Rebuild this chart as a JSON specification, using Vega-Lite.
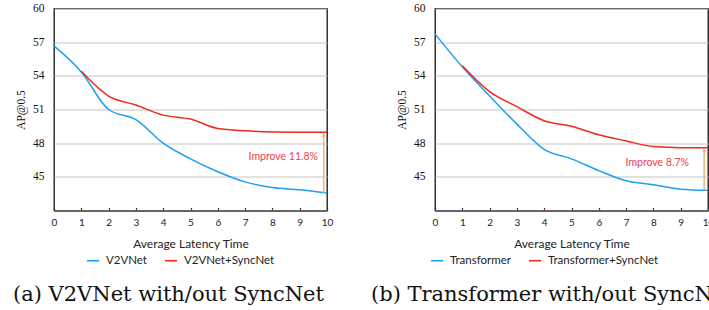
{
  "$schema": "https://vega.github.io/schema/vega-lite/v6.json",
  "padding": {"left": 12, "top": 1.5, "right": 0, "bottom": 0},
  "background": "white",
  "bounds": "flush",
  "spacing": 108,
  "datasets": {
    "a": [
      {"t": 0, "ap": 56.67, "model": "V2VNet"},
      {"t": 1, "ap": 54.35, "model": "V2VNet"},
      {"t": 2, "ap": 51.0, "model": "V2VNet"},
      {"t": 3, "ap": 50.1, "model": "V2VNet"},
      {"t": 4, "ap": 48.0, "model": "V2VNet"},
      {"t": 5, "ap": 46.6, "model": "V2VNet"},
      {"t": 6, "ap": 45.45, "model": "V2VNet"},
      {"t": 7, "ap": 44.55, "model": "V2VNet"},
      {"t": 8, "ap": 44.05, "model": "V2VNet"},
      {"t": 9, "ap": 43.85, "model": "V2VNet"},
      {"t": 10, "ap": 43.55, "model": "V2VNet"},
      {"t": 1, "ap": 54.4, "model": "V2VNet+SyncNet"},
      {"t": 2, "ap": 52.2, "model": "V2VNet+SyncNet"},
      {"t": 3, "ap": 51.4, "model": "V2VNet+SyncNet"},
      {"t": 4, "ap": 50.5, "model": "V2VNet+SyncNet"},
      {"t": 5, "ap": 50.15, "model": "V2VNet+SyncNet"},
      {"t": 6, "ap": 49.3, "model": "V2VNet+SyncNet"},
      {"t": 7, "ap": 49.1, "model": "V2VNet+SyncNet"},
      {"t": 8, "ap": 49.0, "model": "V2VNet+SyncNet"},
      {"t": 9, "ap": 48.98, "model": "V2VNet+SyncNet"},
      {"t": 10, "ap": 48.98, "model": "V2VNet+SyncNet"}
    ],
    "b": [
      {"t": 0, "ap": 57.74, "model": "Transformer"},
      {"t": 1, "ap": 54.8, "model": "Transformer"},
      {"t": 2, "ap": 52.2, "model": "Transformer"},
      {"t": 3, "ap": 49.7, "model": "Transformer"},
      {"t": 4, "ap": 47.45, "model": "Transformer"},
      {"t": 5, "ap": 46.6, "model": "Transformer"},
      {"t": 6, "ap": 45.55, "model": "Transformer"},
      {"t": 7, "ap": 44.65, "model": "Transformer"},
      {"t": 8, "ap": 44.3, "model": "Transformer"},
      {"t": 9, "ap": 43.9, "model": "Transformer"},
      {"t": 10, "ap": 43.8, "model": "Transformer"},
      {"t": 1, "ap": 54.9, "model": "Transformer+SyncNet"},
      {"t": 2, "ap": 52.6, "model": "Transformer+SyncNet"},
      {"t": 3, "ap": 51.25, "model": "Transformer+SyncNet"},
      {"t": 4, "ap": 50.0, "model": "Transformer+SyncNet"},
      {"t": 5, "ap": 49.5, "model": "Transformer+SyncNet"},
      {"t": 6, "ap": 48.75, "model": "Transformer+SyncNet"},
      {"t": 7, "ap": 48.2, "model": "Transformer+SyncNet"},
      {"t": 8, "ap": 47.7, "model": "Transformer+SyncNet"},
      {"t": 9, "ap": 47.6, "model": "Transformer+SyncNet"},
      {"t": 10, "ap": 47.6, "model": "Transformer+SyncNet"}
    ],
    "annA": [{"t": 9.88, "low": 43.55, "high": 48.75, "tx": 9.67, "ty": 46.8, "label": "Improve 11.8%"}],
    "annB": [{"t": 9.86, "low": 43.8, "high": 47.4, "tx": 9.3, "ty": 46.25, "label": "Improve 8.7%"}]
  },
  "resolve": {"scale": {"color": "independent"}, "legend": {"color": "independent"}},
  "config": {
    "view": {"stroke": "#111", "strokeWidth": 1.3},
    "axis": {"grid": false},
    "axisX": {
      "labelFont": "Lato", "labelFontSize": 10, "labelColor": "#222", "labelFlush": false, "labelOverlap": false,
      "titleFont": "Lato", "titleFontSize": 12, "titleColor": "#222", "titleFontWeight": "normal",
      "domainColor": "#666", "domainWidth": 2.2, "tickColor": "#333", "tickSize": -3, "tickWidth": 1.2,
      "labelPadding": 10, "titlePadding": 11
    },
    "axisY": {
      "labelFont": "Liberation Serif", "labelFontSize": 11.5, "labelColor": "#111", "labelOverlap": false,
      "titleFont": "Liberation Serif", "titleFontSize": 11.5, "titleColor": "#111", "titleFontWeight": "normal",
      "domain": false, "ticks": false, "tickSize": 0, "labelPadding": 10,
      "grid": true, "gridColor": "#c4c4c4", "gridWidth": 1.2,
      "titleX": -30, "titleY": 101, "titleBaseline": "alphabetic"
    },
    "legend": {
      "orient": "none", "direction": "horizontal", "symbolType": "stroke", "symbolSize": 144,
      "symbolStrokeWidth": 1.6, "labelFont": "Lato", "labelFontSize": 11.5, "labelColor": "#222",
      "columnPadding": 14, "labelOffset": 6, "title": null
    },
    "title": {
      "font": "DejaVu Serif", "fontSize": 21, "fontWeight": "normal", "color": "#111",
      "orient": "bottom", "anchor": "start", "frame": "group", "baseline": "alphabetic"
    }
  },
  "hconcat": [
    {
      "width": 273, "height": 202,
      "title": {"text": "(a) V2VNet with/out SyncNet", "dx": -41, "offset": 17},
      "layer": [
        {
          "data": {"name": "a"},
          "mark": {"type": "line", "interpolate": "monotone", "strokeWidth": 1.5},
          "encoding": {
            "x": {"field": "t", "type": "quantitative", "title": "Average Latency Time",
                  "scale": {"domain": [0, 10], "nice": false},
                  "axis": {"values": [0,1,2,3,4,5,6,7,8,9,10], "labelOverlap": false, "tickCount": 11, "format": "d"}},
            "y": {"field": "ap", "type": "quantitative", "title": "AP@0.5",
                  "scale": {"domain": [42, 60], "nice": false, "zero": false},
                  "axis": {"values": [45, 48, 51, 54, 57, 60]}},
            "color": {"field": "model", "type": "nominal",
                      "scale": {"domain": ["V2VNet", "V2VNet+SyncNet"], "range": ["#1c9ff2", "#f2281a"]},
                      "legend": {"legendX": 32, "legendY": 245}}
          }
        },
        {
          "data": {"name": "annA"},
          "mark": {"type": "rule", "color": "#f6b080", "strokeWidth": 1.5},
          "encoding": {"x": {"field": "t", "type": "quantitative"}, "y": {"field": "low", "type": "quantitative"}, "y2": {"field": "high"}}
        },
        {
          "data": {"name": "annA"},
          "mark": {"type": "point", "shape": "triangle-up", "filled": true, "color": "#f6b080", "size": 18, "opacity": 1},
          "encoding": {"x": {"field": "t", "type": "quantitative"}, "y": {"field": "high", "type": "quantitative"}}
        },
        {
          "data": {"name": "annA"},
          "mark": {"type": "text", "align": "right", "baseline": "middle", "font": "Lato", "fontSize": 10.5, "color": "#ef3d4a"},
          "encoding": {"x": {"field": "tx", "type": "quantitative"}, "y": {"field": "ty", "type": "quantitative"}, "text": {"field": "label"}}
        }
      ]
    },
    {
      "width": 273, "height": 202,
      "title": {"text": "(b) Transformer with/out SyncNet", "dx": -64, "offset": 17},
      "layer": [
        {
          "data": {"name": "b"},
          "mark": {"type": "line", "interpolate": "monotone", "strokeWidth": 1.5},
          "encoding": {
            "x": {"field": "t", "type": "quantitative", "title": "Average Latency Time",
                  "scale": {"domain": [0, 10], "nice": false},
                  "axis": {"values": [0,1,2,3,4,5,6,7,8,9,10], "labelOverlap": false, "tickCount": 11, "format": "d"}},
            "y": {"field": "ap", "type": "quantitative", "title": "AP@0.5",
                  "scale": {"domain": [42, 60], "nice": false, "zero": false},
                  "axis": {"values": [45, 48, 51, 54, 57, 60]}},
            "color": {"field": "model", "type": "nominal",
                      "scale": {"domain": ["Transformer", "Transformer+SyncNet"], "range": ["#1c9ff2", "#f2281a"]},
                      "legend": {"legendX": -5, "legendY": 245}}
          }
        },
        {
          "data": {"name": "annB"},
          "mark": {"type": "rule", "color": "#f6b080", "strokeWidth": 1.5},
          "encoding": {"x": {"field": "t", "type": "quantitative"}, "y": {"field": "low", "type": "quantitative"}, "y2": {"field": "high"}}
        },
        {
          "data": {"name": "annB"},
          "mark": {"type": "point", "shape": "triangle-up", "filled": true, "color": "#f6b080", "size": 18, "opacity": 1},
          "encoding": {"x": {"field": "t", "type": "quantitative"}, "y": {"field": "high", "type": "quantitative"}}
        },
        {
          "data": {"name": "annB"},
          "mark": {"type": "text", "align": "right", "baseline": "middle", "font": "Lato", "fontSize": 10.5, "color": "#ef3d4a"},
          "encoding": {"x": {"field": "tx", "type": "quantitative"}, "y": {"field": "ty", "type": "quantitative"}, "text": {"field": "label"}}
        }
      ]
    }
  ]
}
